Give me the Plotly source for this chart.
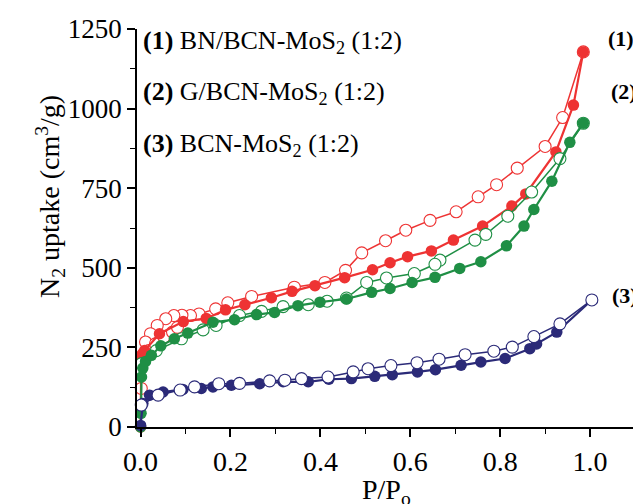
import plotly.graph_objects as go

# Series 1: BN/BCN-MoS2 (1:2) — red
red_ads_x = [0.0, 0.0015, 0.004, 0.009, 0.042, 0.095, 0.146, 0.189, 0.232, 0.291, 0.337, 0.388, 0.454, 0.516,
             0.555, 0.594, 0.647, 0.696, 0.761, 0.826, 0.857, 0.924, 0.963, 0.985]
red_ads_y = [0, 212, 230, 240, 293, 331, 341, 368, 384, 406, 426, 444, 469, 494,
             516, 535, 553, 587, 631, 694, 732, 864, 1011, 1178]
red_des_x = [0.985, 0.939, 0.900, 0.838, 0.792, 0.751, 0.702, 0.644, 0.590, 0.545, 0.492, 0.456, 0.410, 0.342,
             0.247, 0.194, 0.167, 0.130, 0.111, 0.092, 0.074, 0.056, 0.037, 0.022, 0.011, 0.0015]
red_des_y = [1178, 972, 881, 813, 761, 723, 676, 649, 618, 585, 547, 492, 454, 439,
             410, 390, 371, 355, 350, 351, 350, 340, 319, 293, 267, 121]
red_low_x = [0.018, 0.033, 0.052, 0.071, 0.082]
red_low_y = [240, 261, 282, 298, 313]

# Series 2: G/BCN-MoS2 (1:2) — green
green_ads_x = [0.0, 0.001, 0.002, 0.005, 0.011, 0.024, 0.045, 0.075, 0.105, 0.161, 0.209, 0.258, 0.298, 0.350,
               0.399, 0.458, 0.514, 0.555, 0.604, 0.655, 0.710, 0.757, 0.814, 0.853, 0.875, 0.915, 0.955, 0.985]
green_ads_y = [0, 43, 157, 185, 206, 225, 255, 277, 295, 329, 337, 353, 360, 381,
               392, 402, 423, 435, 454, 470, 498, 519, 569, 631, 683, 772, 894, 954]
green_des_x = [0.985, 0.933, 0.870, 0.817, 0.768, 0.744, 0.666, 0.655, 0.609, 0.547, 0.503, 0.458, 0.415, 0.373,
               0.317, 0.269, 0.220, 0.168, 0.139, 0.091, 0.035, 0.002]
green_des_y = [954, 843, 738, 662, 605, 587, 524, 511, 482, 468, 454, 405, 395, 384,
               378, 363, 350, 319, 305, 277, 240, 199]

# Series 3: BCN-MoS2 (1:2) — navy
navy_ads_x = [0.0, 0.005, 0.02, 0.05, 0.094, 0.135, 0.161, 0.202, 0.265, 0.317, 0.373, 0.419, 0.469, 0.521,
              0.560, 0.616, 0.656, 0.713, 0.757, 0.811, 0.866, 0.881, 0.926, 1.004]
navy_ads_y = [5, 74, 100, 110, 118, 121, 126, 131, 136, 142, 142, 150, 152, 159,
              164, 173, 180, 194, 204, 215, 246, 261, 298, 399]
navy_des_x = [1.004, 0.933, 0.875, 0.827, 0.786, 0.722, 0.664, 0.615, 0.557, 0.506, 0.473, 0.417, 0.358, 0.321,
              0.287, 0.220, 0.174, 0.120, 0.088, 0.039, 0.0015]
navy_des_y = [399, 324, 284, 251, 238, 227, 213, 202, 193, 183, 173, 157, 152, 147,
              145, 137, 136, 126, 116, 100, 69]

legend_labels = ["<b>(1)</b> BN/BCN-MoS<sub>2</sub> (1:2)",
                 "<b>(2)</b> G/BCN-MoS<sub>2</sub> (1:2)",
                 "<b>(3)</b> BCN-MoS<sub>2</sub> (1:2)"]
curve_tags = ["<b>(1)</b>", "<b>(2)</b>", "<b>(3)</b>"]

RED = "#EE3333"
GREEN = "#1F8F45"
NAVY = "#2B2A78"
FONT = "Liberation Serif"

fig = go.Figure()

def open_trace(x, y, c):
    fig.add_trace(go.Scatter(x=x, y=y, mode="lines+markers", cliponaxis=False,
                             line=dict(color=c, width=1.5),
                             marker=dict(symbol="circle", size=12, color="white",
                                         line=dict(color=c, width=1.1)),
                             showlegend=False))

def filled_trace(x, y, c):
    fig.add_trace(go.Scatter(x=x, y=y, mode="lines+markers", cliponaxis=False,
                             line=dict(color=c, width=2.2),
                             marker=dict(symbol="circle", size=11.5, color=c,
                                         line=dict(color=c, width=0)),
                             showlegend=False))

open_trace(red_des_x, red_des_y, RED)
open_trace(red_low_x, red_low_y, RED)
filled_trace(red_ads_x, red_ads_y, RED)
open_trace(green_des_x, green_des_y, GREEN)
filled_trace(green_ads_x, green_ads_y, GREEN)
filled_trace(navy_ads_x, navy_ads_y, NAVY)
open_trace(navy_des_x, navy_des_y, NAVY)

ann = []
legend_y = [1208, 1048, 885]
for lab, yy in zip(legend_labels, legend_y):
    ann.append(dict(x=0.0, y=yy, xref="x", yref="y", text=lab, showarrow=False,
                    xanchor="left", yanchor="middle", font=dict(family=FONT, size=26, color="black")))
tag_pos = [(1.068, 1221), (1.075, 1055), (1.078, 414)]
for t, (xx, yy) in zip(curve_tags, tag_pos):
    ann.append(dict(x=xx, y=yy, xref="x", yref="y", text=t, showarrow=False,
                    xanchor="center", yanchor="middle", font=dict(family=FONT, size=22, color="black")))
# axis titles
ann.append(dict(x=-0.175, y=0.58, xref="paper", yref="paper", text="N<sub>2</sub> uptake (cm<sup>3</sup>/g)",
                textangle=-90, showarrow=False, xanchor="center", yanchor="middle",
                font=dict(family=FONT, size=28, color="black")))
ann.append(dict(x=0.5, y=-0.112, xref="paper", yref="paper", text="P/P<sub>o</sub>",
                showarrow=False, xanchor="center", yanchor="top",
                font=dict(family=FONT, size=28, color="black")))

fig.update_layout(
    width=633, height=496,
    margin=dict(l=129, r=6, t=19, b=77),
    paper_bgcolor="white", plot_bgcolor="white",
    font=dict(family=FONT, size=27, color="black"),
    annotations=ann,
    xaxis=dict(range=[-0.008, 1.1], tickvals=[0.0, 0.2, 0.4, 0.6, 0.8, 1.0],
               ticktext=["0.0", "0.2", "0.4", "0.6", "0.8", "1.0"],
               ticks="outside", ticklen=8, tickwidth=1.5, tickcolor="black",
               showline=True, linecolor="black", linewidth=1.8, showgrid=False, zeroline=False,
               minor=dict(dtick=0.1, tick0=0, ticks="outside", ticklen=5, tickwidth=1.3, tickcolor="black",
                          showgrid=False),
               tickfont=dict(family=FONT, size=28)),
    yaxis=dict(range=[0, 1250], tickvals=[0, 250, 500, 750, 1000, 1250],
               ticks="outside", ticklen=8, tickwidth=1.5, tickcolor="black",
               showline=True, linecolor="black", linewidth=1.8, showgrid=False, zeroline=False,
               minor=dict(dtick=125, tick0=0, ticks="outside", ticklen=5, tickwidth=1.3, tickcolor="black",
                          showgrid=False),
               tickfont=dict(family=FONT, size=27)),
)

fig.write_html("out.html")
